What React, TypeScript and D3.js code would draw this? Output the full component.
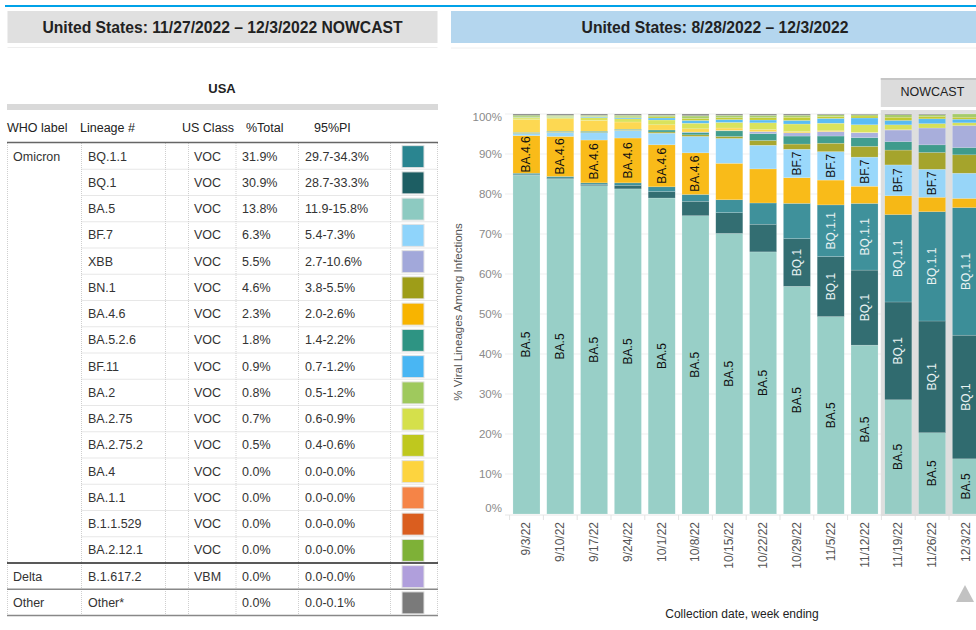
import React from 'react';
import * as d3 from 'd3';

// ---------- Data ----------
const weeks = ['9/3/22', '9/10/22', '9/17/22', '9/24/22', '10/1/22', '10/8/22', '10/15/22', '10/22/22', '10/29/22', '11/5/22', '11/12/22', '11/19/22', '11/26/22', '12/3/22'];
const nowcastWeeks = ['11/19/22', '11/26/22', '12/3/22'];

const vBA5 = [84.7, 83.7, 82.0, 81.2, 79.0, 74.5, 70.0, 65.4, 56.8, 49.3, 42.3, 28.5, 20.3, 13.8];
const vBQ1 = [0.1, 0.2, 0.3, 0.9, 1.6, 3.6, 5.2, 6.9, 11.9, 15.0, 18.8, 24.4, 27.9, 30.9];
const vBQ11 = [0.4, 0.4, 0.4, 0.6, 1.2, 1.7, 3.2, 5.3, 8.8, 12.9, 16.7, 21.8, 27.3, 31.9];
const vBA46 = [9.4, 10.0, 10.7, 11.2, 10.5, 10.4, 9.1, 8.5, 6.4, 6.2, 4.3, 4.7, 3.6, 2.3];
const vBF7 = [0.5, 1.0, 1.8, 1.9, 2.9, 4.1, 6.2, 5.9, 7.1, 7.1, 7.3, 7.7, 7.0, 6.3];
const vBN1 = [0.1, 0.1, 0.1, 0.1, 0.3, 0.4, 0.5, 1.2, 1.3, 2.1, 2.7, 3.7, 4.2, 4.6];
const vBA526 = [0.2, 0.2, 0.3, 0.2, 0.5, 0.6, 1.4, 1.7, 2.0, 1.8, 2.2, 2.1, 1.9, 1.8];
const vXBB = [0, 0, 0, 0, 0, 0.1, 0.1, 0.5, 0.8, 1.1, 1.2, 2.9, 4.2, 5.5];
const vBA4 = [3.2, 3.1, 2.7, 1.8, 1.3, 0.8, 0.6, 0.5, 0.3, 0.2, 0.1, 0.1, 0, 0];
const vBA275 = [0.4, 0.4, 0.7, 0.8, 1.2, 1.4, 1.4, 1.7, 1.9, 1.9, 1.9, 1.2, 1.1, 0.7];
const vBF11 = [0.1, 0.1, 0.2, 0.3, 0.5, 0.7, 0.7, 0.7, 0.9, 1.2, 1.7, 1.1, 1.2, 0.9];
const vBA2752 = [0.1, 0.1, 0.1, 0.2, 0.3, 0.5, 0.5, 0.6, 0.8, 0.5, 0.5, 0.8, 0.6, 0.5];
const vBA2 = [0.3, 0.2, 0.2, 0.3, 0.3, 0.6, 0.5, 0.5, 0.5, 0.4, 0.3, 0.6, 0.4, 0.8];
const vBA2121 = [0.2, 0.1, 0.1, 0.1, 0.1, 0.1, 0.1, 0.1, 0, 0, 0, 0, 0, 0];
const vBA11 = [0, 0, 0, 0, 0, 0, 0, 0, 0, 0, 0, 0, 0, 0];
const vB11529 = [0, 0, 0, 0, 0, 0, 0, 0, 0, 0, 0, 0, 0, 0];
const vB16172 = [0, 0, 0, 0, 0, 0, 0, 0, 0, 0, 0, 0, 0, 0];
const vOther = [0.3, 0.3, 0.3, 0.3, 0.3, 0.4, 0.3, 0.3, 0.3, 0.2, 0.2, 0.2, 0.2, 0];

const stackKeys = ['BA.5', 'BQ.1', 'BQ.1.1', 'BA.4.6', 'BF.7', 'BN.1', 'BA.5.2.6', 'XBB', 'BA.4', 'BA.2.75', 'BF.11', 'BA.2.75.2', 'BA.2', 'BA.2.12.1', 'BA.1.1', 'B.1.1.529', 'B.1.617.2', 'Other'];
const stackValues = [vBA5, vBQ1, vBQ11, vBA46, vBF7, vBN1, vBA526, vXBB, vBA4, vBA275, vBF11, vBA2752, vBA2, vBA2121, vBA11, vB11529, vB16172, vOther];

// table
const tableWho = ['Omicron', '', '', '', '', '', '', '', '', '', '', '', '', '', '', '', 'Delta', 'Other'];
const tableLineages = ['BQ.1.1', 'BQ.1', 'BA.5', 'BF.7', 'XBB', 'BN.1', 'BA.4.6', 'BA.5.2.6', 'BF.11', 'BA.2', 'BA.2.75', 'BA.2.75.2', 'BA.4', 'BA.1.1', 'B.1.1.529', 'BA.2.12.1', 'B.1.617.2', 'Other*'];
const tableKeys = ['BQ.1.1', 'BQ.1', 'BA.5', 'BF.7', 'XBB', 'BN.1', 'BA.4.6', 'BA.5.2.6', 'BF.11', 'BA.2', 'BA.2.75', 'BA.2.75.2', 'BA.4', 'BA.1.1', 'B.1.1.529', 'BA.2.12.1', 'B.1.617.2', 'Other'];
const tableClass = ['VOC', 'VOC', 'VOC', 'VOC', 'VOC', 'VOC', 'VOC', 'VOC', 'VOC', 'VOC', 'VOC', 'VOC', 'VOC', 'VOC', 'VOC', 'VOC', 'VBM', ''];
const tableTotal = ['31.9%', '30.9%', '13.8%', '6.3%', '5.5%', '4.6%', '2.3%', '1.8%', '0.9%', '0.8%', '0.7%', '0.5%', '0.0%', '0.0%', '0.0%', '0.0%', '0.0%', '0.0%'];
const tablePI = ['29.7-34.3%', '28.7-33.3%', '11.9-15.8%', '5.4-7.3%', '2.7-10.6%', '3.8-5.5%', '2.0-2.6%', '1.4-2.2%', '0.7-1.2%', '0.5-1.2%', '0.6-0.9%', '0.4-0.6%', '0.0-0.0%', '0.0-0.0%', '0.0-0.0%', '0.0-0.0%', '0.0-0.0%', '0.0-0.1%'];
const tableColors = ['#2a8590', '#1d5e63', '#8dcac1', '#8fd4fb', '#a2a8da', '#9e9d18', '#f8b400', '#2e9483', '#49b6f3', '#9fc95d', '#d5e04b', '#bfc81e', '#fdd43f', '#f58447', '#da5e1f', '#7eb137', '#b09fdc', '#7a7a7a'];

const yTicks = [0, 10, 20, 30, 40, 50, 60, 70, 80, 90, 100];
const labeledKeys = ['BA.5', 'BQ.1', 'BQ.1.1', 'BA.4.6', 'BF.7'];
const lightLabelKeys = ['BQ.1', 'BQ.1.1'];

const FONT = 'Liberation Sans, Arial, Helvetica, sans-serif';

const charW: Record<string, number> = { B: 8, A: 8, Q: 9.34, F: 7.33, X: 8, N: 8.67, '.': 3.33 };
function textW(s: string) {
  let w = 0;
  for (const c of s) w += charW[c] ?? 6.67;
  return w;
}

export default function App() {
  const colorOf = (k: string) => tableColors[tableKeys.indexOf(k)];

  const rows = weeks.map((w, i) => {
    const o: Record<string, any> = { week: w };
    stackKeys.forEach((k, j) => (o[k] = stackValues[j][i]));
    return o;
  });
  const series = d3.stack<any>().keys(stackKeys).offset(d3.stackOffsetExpand)(rows);

  const x = d3.scaleBand<string>().domain(weeks).range([506.2, 986.2]).padding(0.2);
  const y = d3.scaleLinear().domain([0, 1]).range([514, 114]);
  const yPct = d3.scaleLinear().domain([0, 100]).range([514, 114]);

  // table row scale
  const rowScale = d3.scaleBand<number>().domain(d3.range(18)).range([143, 143 + 18 * 26.25]);
  const colX = [7.5, 81.5, 165.5, 188.5, 236, 298.5, 390.5, 437.5];

  const nowLeft = (x(nowcastWeeks[0]) as number) - 4;

  return (
    <svg width={976} height={630} style={{ position: 'absolute', left: 0, top: 0, fontFamily: FONT }}>
      <rect x={0} y={0} width={976} height={630} fill="#fff" />
      {/* top blue line */}
      <rect x={5} y={5} width={971} height={2} fill="#00a2e8" />

      {/* title boxes */}
      <rect x={7.5} y={11} width={430} height={32} fill="#e0e0e0" />
      <line x1={7.5} x2={437.5} y1={47.5} y2={47.5} stroke="#eeeeee" />
      <text x={222.5} y={27} textAnchor="middle" dominantBaseline="central" fontSize={15.7} fontWeight="bold" fill="#222">
        United States: 11/27/2022 – 12/3/2022 NOWCAST
      </text>
      <rect x={451} y={11} width={525} height={32} fill="#b4d6ee" />
      <line x1={451} x2={976} y1={48} y2={48} stroke="#eeeeee" />
      <text x={715} y={27} textAnchor="middle" dominantBaseline="central" fontSize={15.7} fontWeight="bold" fill="#222">
        United States: 8/28/2022 – 12/3/2022
      </text>

      {/* ---------- Table ---------- */}
      <text x={222} y={88} textAnchor="middle" dominantBaseline="central" fontSize={13} fontWeight="bold" fill="#222">USA</text>
      <rect x={7} y={104} width={431} height={6} fill="#d9d9d9" />
      {[
        ['WHO label', 7],
        ['Lineage #', 80],
        ['US Class', 182],
        ['%Total', 246],
        ['95%PI', 314],
      ].map(([t, xx]) => (
        <text key={t as string} x={xx as number} y={127.5} dominantBaseline="central" fontSize={12.5} fill="#222">{t}</text>
      ))}

      {/* dotted grid */}
      {colX.map((cx, i) => (
        <line key={'v' + i} x1={cx} x2={cx} y1={143} y2={615} stroke="#cfcfcf" strokeDasharray="1,1" />
      ))}
      {d3.range(15).map((i) => {
        const yy = (rowScale(i) as number) + rowScale.bandwidth();
        return <line key={'h' + i} x1={81.5} x2={437.5} y1={yy} y2={yy} stroke="#cfcfcf" strokeDasharray="1,1" />;
      })}
      <line x1={7} x2={438} y1={142.5} y2={142.5} stroke="#666" strokeWidth={1.5} />
      <line x1={7} x2={438} y1={(rowScale(16) as number)} y2={(rowScale(16) as number)} stroke="#222" strokeWidth={1.5} />
      <line x1={7} x2={438} y1={(rowScale(17) as number)} y2={(rowScale(17) as number)} stroke="#888" strokeWidth={1.5} />
      <line x1={7} x2={438} y1={(rowScale(17) as number) + rowScale.bandwidth()} y2={(rowScale(17) as number) + rowScale.bandwidth()} stroke="#888" strokeWidth={1.5} />

      {tableLineages.map((lin, i) => {
        const cy = (rowScale(i) as number) + rowScale.bandwidth() / 2 + 0.5;
        return (
          <g key={lin} fontSize={12.5} fill="#333">
            {tableWho[i] && <text x={13} y={cy} dominantBaseline="central">{tableWho[i]}</text>}
            <text x={88} y={cy} dominantBaseline="central">{lin}</text>
            <text x={194} y={cy} dominantBaseline="central">{tableClass[i]}</text>
            <text x={242} y={cy} dominantBaseline="central">{tableTotal[i]}</text>
            <text x={305} y={cy} dominantBaseline="central">{tablePI[i]}</text>
            <rect x={402} y={cy - 11} width={22} height={22} fill={tableColors[i]} stroke="#e2e2e2" strokeWidth={1} />
          </g>
        );
      })}

      {/* ---------- Chart ---------- */}
      {/* y axis title */}
      <text transform="translate(458,312) rotate(-90)" textAnchor="middle" dominantBaseline="central" fontSize={11.5} fill="#555">
        % Viral Lineages Among Infections
      </text>
      {/* gridlines and tick labels */}
      {yTicks.map((t) => (
        <g key={t}>
          {t > 0 && <line x1={505} x2={976} y1={yPct(t)} y2={yPct(t)} stroke="#efefef" />}
          <text x={502} y={Math.min(Math.max(yPct(t), 117), 508)} textAnchor="end" dominantBaseline="central" fontSize={11.5} fill="#8a8a8a">
            {t}%
          </text>
        </g>
      ))}
      <line x1={505} x2={976} y1={515} y2={515} stroke="#e6e6e6" />
      {weeks.map((w) => {
        const bx = (x(w) as number) - (x.step() - x.bandwidth()) / 2;
        return <line key={'t' + w} x1={bx} x2={bx} y1={515} y2={520} stroke="#e3e3e3" />;
      })}

      {/* nowcast panel */}
      <rect x={nowLeft} y={110} width={976 - nowLeft} height={406} fill="#dedede" />
      <rect x={nowLeft} y={78} width={976 - nowLeft} height={29} fill="#dcdcdc" />
      <rect x={nowLeft} y={78} width={976 - nowLeft} height={2} fill="#c6c6c6" />
      <text x={(nowLeft + 984) / 2} y={92} textAnchor="middle" dominantBaseline="central" fontSize={12.5} fill="#222">NOWCAST</text>

      {/* bars */}
      {series.map((s) => (
        <g key={s.key} fill={colorOf(s.key)} fillOpacity={0.9}>
          {s.map((d, i) => {
            const h = y(d[0]) - y(d[1]);
            if (h <= 0) return null;
            return (
              <rect
                key={i}
                x={x(weeks[i])}
                y={y(d[1])}
                width={x.bandwidth()}
                height={h}
                stroke="#ffffff"
                strokeOpacity={0.35}
                strokeWidth={0.5}
              />
            );
          })}
        </g>
      ))}
      {/* bar labels */}
      {series
        .filter((s) => labeledKeys.includes(s.key))
        .map((s) => (
          <g key={'l' + s.key}>
            {s.map((d, i) => {
              const h = y(d[0]) - y(d[1]);
              if (h < textW(s.key) + 1) return null;
              const cx = (x(weeks[i]) as number) + x.bandwidth() / 2;
              const cy = (y(d[0]) + y(d[1])) / 2;
              return (
                <text
                  key={i}
                  transform={`translate(${cx},${cy}) rotate(-90)`}
                  textAnchor="middle"
                  dominantBaseline="central"
                  fontSize={12}
                  fill={lightLabelKeys.includes(s.key) ? '#e9f2f2' : '#111'}
                >
                  {s.key}
                </text>
              );
            })}
          </g>
        ))}

      {/* x labels */}
      {weeks.map((w) => (
        <text
          key={'x' + w}
          transform={`translate(${(x(w) as number) + x.bandwidth() / 2},522) rotate(-90)`}
          textAnchor="end"
          dominantBaseline="central"
          fontSize={12}
          fill="#555"
        >
          {w}
        </text>
      ))}
      <text x={742} y={614} textAnchor="middle" dominantBaseline="central" fontSize={12} fill="#222">
        Collection date, week ending
      </text>
      {/* scroll triangle */}
      <path d="M956,602 L965,585 L974,602 Z" fill="#c2c2c2" />
    </svg>
  );
}
